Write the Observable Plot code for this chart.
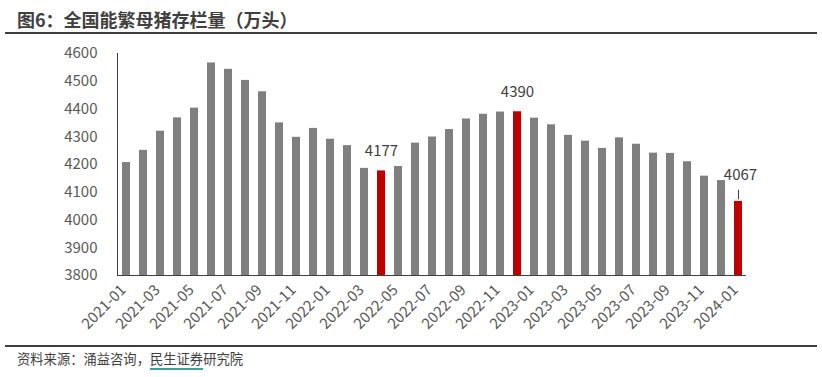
<!DOCTYPE html>
<html><head><meta charset="utf-8">
<script src="https://cdn.jsdelivr.net/npm/d3@7"></script>
<script src="https://cdn.jsdelivr.net/npm/@observablehq/plot@0.6"></script>
<style>
body{margin:0;background:#fff;width:822px;height:377px;position:relative;overflow:hidden;font-family:"Noto Sans CJK SC","Noto Sans",sans-serif;}
#title{position:absolute;left:17px;top:7px;font-size:18px;font-weight:bold;color:#404040;line-height:24px;white-space:nowrap;}
#tline{position:absolute;left:5px;width:812px;top:32px;height:2px;background:#404040;}
#chart{position:absolute;left:0;top:40px;}
#fline{position:absolute;left:5px;width:812px;top:345px;height:2px;background:#404040;}
#source{position:absolute;left:17px;top:349px;font-size:13.3px;color:#404040;line-height:20px;white-space:nowrap;}
#source span{border-bottom:2px solid #3aa0a0;}
</style>
</head><body>
<div id="title">图6：全国能繁母猪存栏量（万头）</div>
<div id="tline"></div>
<div id="chart"></div>
<div id="fline"></div>
<div id="source">资料来源：涌益咨询，<span>民生证券</span>研究院</div>
<script>
const months = ["2021-01","2021-02","2021-03","2021-04","2021-05","2021-06","2021-07","2021-08","2021-09","2021-10","2021-11","2021-12",
"2022-01","2022-02","2022-03","2022-04","2022-05","2022-06","2022-07","2022-08","2022-09","2022-10","2022-11","2022-12",
"2023-01","2023-02","2023-03","2023-04","2023-05","2023-06","2023-07","2023-08","2023-09","2023-10","2023-11","2023-12",
"2024-01"];
const values = [4207,4251,4320,4368,4403,4566,4543,4503,4462,4350,4298,4330,
4291,4268,4186,4177,4193,4277,4299,4326,4364,4381,4389,4390,
4367,4343,4305,4284,4258,4296,4273,4241,4240,4210,4158,4142,
4067];
const highlighted = ["2022-04","2022-12","2024-01"];
const xTicks = ["2021-01","2021-03","2021-05","2021-07","2021-09","2021-11","2022-01","2022-03","2022-05","2022-07","2022-09","2022-11","2023-01","2023-03","2023-05","2023-07","2023-09","2023-11","2024-01"];
const yTicks = [3800,3900,4000,4100,4200,4300,4400,4500,4600];

const data = months.map((m,i)=>({month:m, value:values[i], hl: highlighted.includes(m)}));
const labelsMid = data.filter(d=>d.hl && d.month!=="2024-01");
const labelLast = data.filter(d=>d.month==="2024-01");

const chart = Plot.plot({
  width: 822, height: 305,
  marginTop: 13, marginBottom: 70, marginLeft: 117, marginRight: 76,
  style: {fontFamily: '"Noto Sans CJK SC","Noto Sans",sans-serif', fontSize: "14px", color: "#595959", background: "white", overflow: "visible"},
  x: {type: "band", domain: months, paddingInner: 0.53, paddingOuter: 0.265, label: null},
  y: {domain: [3800, 4600], label: null},
  marks: [
    Plot.barY(data, {x: "month", y1: 3800, y2: "value", fill: d => d.hl ? "#c00000" : "#7f7f7f"}),
    Plot.ruleY([3800], {stroke: "#404040", strokeWidth: 1}),
    Plot.frame({anchor: "left", stroke: "#404040"}),
    Plot.axisY({ticks: yTicks, tickSize: 0, tickPadding: 20, fontSize: 15, tickFormat: d => String(d), label: null, fill: "#595959"}),
    Plot.axisX({ticks: xTicks, tickSize: 0, tickRotate: -45, tickPadding: 12, dx: -3, fontSize: 15, label: null, fill: "#595959"}),
    Plot.text(labelsMid, {x: "month", y: "value", text: d => String(d.value), dy: -20, fontSize: 15, fill: "#404040"}),
    Plot.text(labelLast, {x: "month", y: "value", text: d => String(d.value), dy: -26, dx: 2, fontSize: 15, fill: "#404040"}),
    Plot.ruleX(labelLast, {x: "month", y1: d => d.value + 6, y2: d => d.value + 40, stroke: "#404040", strokeWidth: 1})
  ]
});
document.getElementById("chart").appendChild(chart);
</script>
</body></html>
